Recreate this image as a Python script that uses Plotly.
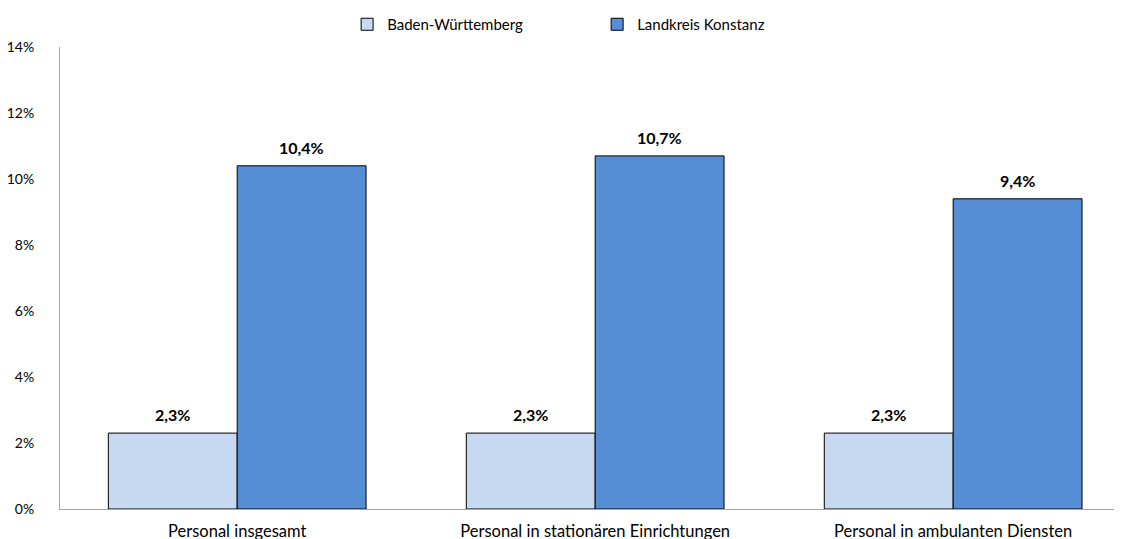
import plotly.graph_objects as go

categories = ["Personal insgesamt", "Personal in stationären Einrichtungen", "Personal in ambulanten Diensten"]
bw_values = [0.023, 0.023, 0.023]
kn_values = [0.104, 0.107, 0.094]
series_names = ["Baden-Württemberg", "Landkreis Konstanz"]
y_ticks = [0, 0.02, 0.04, 0.06, 0.08, 0.10, 0.12, 0.14]

font = "Lato, Carlito, Calibri, sans-serif"
x_pos = [0, 1, 2]
offset = 0.18  # half of a bar width in category units

fig = go.Figure()
fig.add_trace(go.Bar(
    x=x_pos, y=bw_values, name=series_names[0],
    marker=dict(color="#C6D9F1", line=dict(color="#000000", width=1)),
))
fig.add_trace(go.Bar(
    x=x_pos, y=kn_values, name=series_names[1],
    marker=dict(color="#558ED5", line=dict(color="#000000", width=1)),
))

# value labels above bars
for vals, sh in [(bw_values, -offset), (kn_values, offset)]:
    for xi, v in zip(x_pos, vals):
        fig.add_annotation(x=xi + sh, y=v, text="<b>" + f"{v*100:.1f}%".replace(".", ",") + "</b>",
                           showarrow=False, yanchor="bottom", yshift=7,
                           font=dict(size=16, color="#000000", family=font))

# page body adds an 8px offset, margins account for it
fig.update_layout(
    width=1122, height=539,
    margin=dict(l=52, r=0, t=39, b=38),
    paper_bgcolor="white", plot_bgcolor="white",
    separators=",.",
    barmode="group", bargap=0.28, bargroupgap=0,
    font=dict(family=font, size=14, color="#000000"),
    legend=dict(orientation="h", x=0.502, xanchor="center", yref="container", y=1.0, yanchor="top",
                font=dict(size=15), entrywidth=205, itemwidth=30),
    xaxis=dict(range=[-0.495, 2.494], tickvals=x_pos, ticktext=categories,
               tickfont=dict(size=16.5),
               showline=True, linecolor="#A6A6A6", linewidth=1, ticks="",
               showgrid=False, zeroline=False, ticklabelstandoff=7, automargin=False),
    yaxis=dict(range=[0, 0.14], tickvals=y_ticks, tickformat=".0%",
               showline=True, linecolor="#A6A6A6", linewidth=1, ticks="",
               showgrid=False, zeroline=False, ticklabelstandoff=22, automargin=False),
)

fig.write_html("out.html")
